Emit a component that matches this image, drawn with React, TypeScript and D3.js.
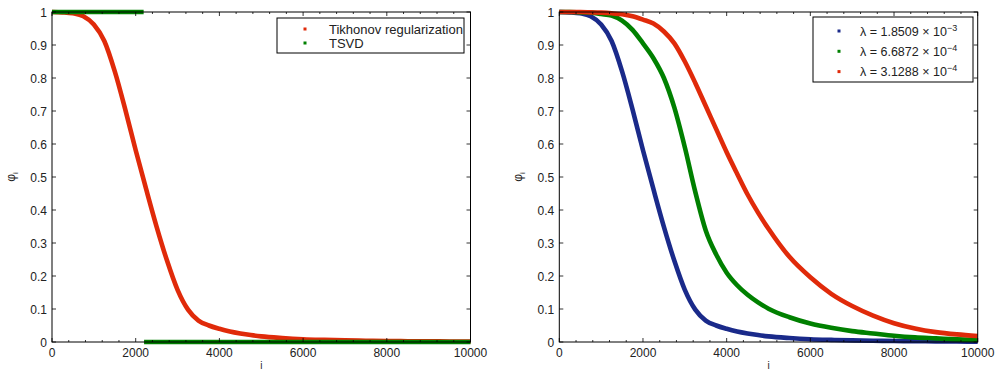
import React from "react";
import * as d3 from "d3";

const iGrid = [0, 250, 500, 750, 1000, 1250, 1500, 1750, 2000, 2250, 2500, 2750, 3000, 3250, 3500, 3750, 4000, 4250, 4500, 4750, 5000, 5500, 6000, 6500, 7000, 7500, 8000, 8500, 9000, 9500, 10000];

const phiLam1 = [1.0, 0.999, 0.996, 0.987, 0.962, 0.912, 0.82, 0.705, 0.581, 0.463, 0.349, 0.246, 0.158, 0.098, 0.065, 0.05, 0.04, 0.032, 0.026, 0.021, 0.017, 0.012, 0.0085, 0.0065, 0.005, 0.004, 0.003, 0.0025, 0.002, 0.0015, 0.001];
const phiLam2 = [1.0, 1.0, 0.999, 0.998, 0.994, 0.989, 0.974, 0.946, 0.905, 0.86, 0.8, 0.71, 0.59, 0.455, 0.338, 0.265, 0.21, 0.172, 0.143, 0.12, 0.101, 0.075, 0.056, 0.043, 0.033, 0.026, 0.019, 0.014, 0.011, 0.008, 0.006];
const phiLam3 = [1.0, 1.0, 1.0, 0.999, 0.998, 0.996, 0.993, 0.987, 0.977, 0.965, 0.941, 0.905, 0.85, 0.785, 0.715, 0.645, 0.575, 0.51, 0.447, 0.392, 0.343, 0.258, 0.196, 0.146, 0.109, 0.08, 0.057, 0.041, 0.03, 0.023, 0.018];

const tsvdKeptI = [0, 2190];
const tsvdKeptPhi = [1, 1];
const tsvdCutI = [2200, 10000];
const tsvdCutPhi = [0, 0];

const leftLegend = ["Tikhonov regularization", "TSVD"];
const rightLegendVals = ["1.8509", "6.6872", "3.1288"];
const rightLegendExps = ["\u22123", "\u22124", "\u22124"];

const xTicks = [0, 2000, 4000, 6000, 8000, 10000];
const xMinor = d3.range(0, 10001, 400);
const yTicks = [0, 0.1, 0.2, 0.3, 0.4, 0.5, 0.6, 0.7, 0.8, 0.9, 1];

const RED = "#e02a0a";
const GREEN = "#008000";
const BLUE = "#1a2a8a";
const FONT = "'Liberation Sans', Arial, sans-serif";

function toPts(xs: number[], ys: number[]) {
  return xs.map((x, k) => [x, ys[k]] as [number, number]);
}

function Axes({ x0, x1, y0, y1, children }: any) {
  const x = d3.scaleLinear().domain([0, 10000]).range([x0, x1]);
  const y = d3.scaleLinear().domain([0, 1]).range([y1, y0]);
  return (
    <g>
      {children(x, y)}
      <rect x={x0} y={y0} width={x1 - x0} height={y1 - y0} fill="none" stroke="#000" strokeWidth={1} />
      {xMinor.map((t) => (
        <g key={"m" + t}>
          <line x1={x(t)} x2={x(t)} y1={y1} y2={y1 - (xTicks.includes(t) ? 4 : 2)} stroke="#000" strokeWidth={0.8} />
          <line x1={x(t)} x2={x(t)} y1={y0} y2={y0 + (xTicks.includes(t) ? 4 : 2)} stroke="#000" strokeWidth={0.8} />
        </g>
      ))}
      {xTicks.map((t) => (
        <text key={"xt" + t} x={x(t)} y={y1 + 15} textAnchor="middle" fontSize={12} fontFamily={FONT} fill="#222">
          {t}
        </text>
      ))}
      {yTicks.map((t) => (
        <g key={"y" + t}>
          <line x1={x0} x2={x0 + 4} y1={y(t)} y2={y(t)} stroke="#000" strokeWidth={0.8} />
          <line x1={x1} x2={x1 - 4} y1={y(t)} y2={y(t)} stroke="#000" strokeWidth={0.8} />
          <text x={x0 - 5} y={y(t) + 4.5} textAnchor="end" fontSize={12} fontFamily={FONT} fill="#222">
            {String(t)}
          </text>
        </g>
      ))}
      <text x={(x0 + x1) / 2} y={369} textAnchor="middle" fontSize={10} fontFamily={FONT} fill="#222">i</text>
      <text transform={`translate(${x0 - 37},${(y0 + y1) / 2}) rotate(-90)`} textAnchor="middle" fontSize={12} fontFamily={FONT} fill="#222">
        {"\u03c6"}
        <tspan fontSize={8} dy={3}>i</tspan>
      </text>
    </g>
  );
}

export default function App() {
  const line = (x: any, y: any) =>
    d3
      .line<[number, number]>()
      .x((d) => x(d[0]))
      .y((d) => y(d[1]))
      .curve(d3.curveMonotoneX);
  const SW = 4.6;
  return (
    <div style={{ position: "absolute", left: 0, top: 0 }}>
      <svg width={995} height={371} style={{ display: "block", background: "#fff" }}>
        <Axes x0={52} x1={470.5} y0={12} y1={342}>
          {(x: any, y: any) => (
            <g>
              <path d={line(x, y)(toPts(iGrid, phiLam1)) || ""} fill="none" stroke={RED} strokeWidth={SW} />
              <path d={line(x, y)(toPts(tsvdKeptI, tsvdKeptPhi)) || ""} fill="none" stroke={GREEN} strokeWidth={SW} />
              <path d={line(x, y)(toPts(tsvdCutI, tsvdCutPhi)) || ""} fill="none" stroke={GREEN} strokeWidth={SW} />
            </g>
          )}
        </Axes>
        <Axes x0={559.3} x1={977.7} y0={12} y1={342}>
          {(x: any, y: any) => (
            <g>
              <path d={line(x, y)(toPts(iGrid, phiLam1)) || ""} fill="none" stroke={BLUE} strokeWidth={SW} />
              <path d={line(x, y)(toPts(iGrid, phiLam2)) || ""} fill="none" stroke={GREEN} strokeWidth={SW} />
              <path d={line(x, y)(toPts(iGrid, phiLam3)) || ""} fill="none" stroke={RED} strokeWidth={SW} />
            </g>
          )}
        </Axes>
        <g>
          <rect x={277} y={18} width={187} height={35} fill="#fff" stroke="#000" strokeWidth={1} />
          {leftLegend.map((s, k) => (
            <g key={s}>
              <rect x={303.5} y={27.5 + k * 14} width={3} height={3} fill={k === 0 ? RED : GREEN} />
              <text x={329} y={33.5 + k * 14} fontSize={13} fontFamily={FONT} fill="#222">{s}</text>
            </g>
          ))}
        </g>
        <g>
          <rect x={813} y={17} width={160} height={65} fill="#fff" stroke="#000" strokeWidth={1} />
          {rightLegendVals.map((v, k) => (
            <g key={v}>
              <rect x={837.5} y={29.5 + k * 20.3} width={3} height={3} fill={[BLUE, GREEN, RED][k]} />
              <text x={860} y={35.5 + k * 20.3} fontSize={12.5} fontFamily={FONT} fill="#222">
                {"\u03bb = " + v + " \u00d7 10"}
                <tspan fontSize={9} dy={-5}>{rightLegendExps[k]}</tspan>
              </text>
            </g>
          ))}
        </g>
      </svg>
    </div>
  );
}
